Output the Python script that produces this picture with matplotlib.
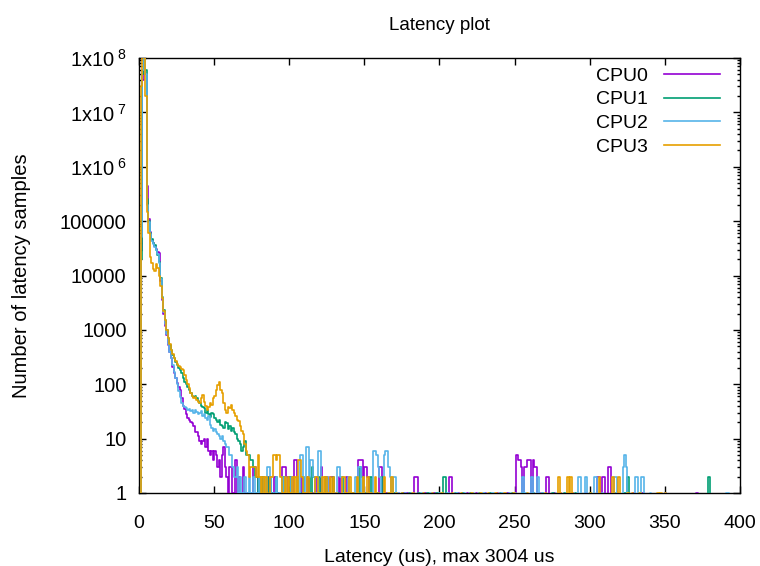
import numpy as np
import matplotlib
matplotlib.use("Agg")
import matplotlib.pyplot as plt
from matplotlib.ticker import LogLocator, NullFormatter, FuncFormatter, MultipleLocator

plt.rcParams["font.family"] = ["Liberation Sans", "DejaVu Sans"]
plt.rcParams["mathtext.default"] = "regular"

# histogram counts per 1 us bin, bins 0..74
cpu0_head = [0, 30000, 4e7, 1.5e8, 5e7, 440000, 110000, 62000, 45000, 40000,
             35000, 31000, 27000, 26000, 8000, 3500, 2000, 1200, 800, 520,
             390, 300, 210, 160, 130, 105, 90, 78, 55, 40,
             35, 28, 24, 22, 20, 19, 17, 13, 13, 11,
             9, 8, 9, 10, 7, 10, 6, 5, 6, 4,
             6, 5, 3, 4, 2, 5, 7, 3, 2, 1,
             3, 3, 1, 0, 4, 1, 2, 0, 0, 3,
             1, 0, 1, 0, 0]
cpu1_head = [0, 20000, 5e7, 1.5e8, 6e7, 250000, 100000, 60000, 46000, 40000,
             36000, 30000, 24000, 18000, 9000, 4000, 2300, 1500, 1000, 700,
             520, 420, 350, 300, 260, 230, 200, 180, 160, 130,
             110, 100, 90, 80, 70, 62, 58, 60, 55, 50,
             45, 40, 38, 36, 30, 34, 28, 25, 30, 28,
             24, 22, 20, 22, 18, 17, 16, 20, 19, 15,
             17, 14, 16, 13, 12, 10, 9, 8, 6, 7,
             9, 5, 5, 5, 4]
cpu2_head = [0, 50000, 6e7, 1.5e8, 5e7, 200000, 95000, 58000, 44000, 38000,
             34000, 29000, 25000, 17000, 8500, 3800, 2100, 1300, 850, 560,
             400, 300, 230, 170, 130, 100, 75, 58, 45, 40,
             38, 36, 34, 35, 32, 33, 30, 34, 31, 28,
             30, 32, 26, 28, 24, 22, 26, 18, 16, 14,
             15, 13, 12, 11, 10, 11, 9, 8, 7, 7,
             5, 5, 3, 2, 2, 3, 1, 2, 1, 1,
             2, 1, 1, 2, 1]
cpu3_head = [0, 3e7, 1.5e8, 1e8, 2e7, 150000, 60000, 22000, 17000, 13000,
             12000, 16000, 14000, 10000, 6500, 3800, 2200, 1500, 1000, 720,
             540, 430, 360, 310, 270, 240, 220, 210, 190, 180,
             150, 120, 100, 85, 70, 60, 55, 58, 52, 48,
             45, 55, 63, 48, 40, 34, 38, 45, 42, 55,
             62, 78, 95, 110, 80, 68, 45, 33, 30, 38,
             36, 42, 34, 30, 26, 22, 21, 17, 14, 12,
             8, 6, 5, 2, 3]

# sparse tail, bins >= 75
cpu0_tail_bins = [75, 76, 77, 78, 80, 82, 84, 86, 88, 90, 92, 95, 96, 97, 98, 100, 101, 103, 104, 106,
                  108, 110, 112, 115, 118, 121, 123, 125, 127, 128, 130, 133, 136, 138, 142, 146, 147, 148, 150, 151,
                  152, 155, 160, 161, 164, 168, 172, 176, 178, 183, 184, 185, 190, 196, 206, 207, 212, 218, 224, 230,
                  238, 245, 251, 252, 253, 254, 256, 257, 258, 259, 260, 262, 263, 264, 266, 271, 272, 276, 280, 288,
                  297, 305, 306, 308, 309, 312, 313, 318, 325, 329, 335, 350, 371]
cpu0_tail_vals = [1, 3, 3, 2, 1, 2, 1, 2, 1, 2, 1, 3, 3, 3, 2, 1, 2, 4, 4, 1,
                  2, 1, 2, 1, 2, 3, 1, 2, 2, 2, 1, 2, 1, 2, 1, 4, 4, 4, 3, 3,
                  2, 1, 3, 3, 1, 1, 1, 1, 1, 2, 2, 2, 1, 1, 2, 2, 1, 1, 1, 1,
                  1, 1, 5, 4, 4, 3, 3, 3, 4, 4, 4, 4, 3, 3, 1, 2, 2, 1, 1, 1,
                  1, 2, 2, 2, 2, 3, 3, 1, 1, 1, 1, 1, 1]
cpu1_tail_bins = [75, 76, 77, 78, 79, 80, 82, 83, 85, 87, 89, 91, 93, 96, 99, 100, 102, 105, 107, 109,
                  111, 113, 115, 116, 118, 120, 122, 124, 126, 129, 132, 135, 137, 140, 143, 147, 148, 151, 154, 158,
                  162, 166, 170, 175, 180, 186, 192, 198, 202, 203, 210, 215, 220, 226, 233, 240, 248, 255, 262, 268,
                  275, 283, 290, 300, 316, 323, 325, 333, 379]
cpu1_tail_vals = [4, 3, 2, 2, 1, 2, 2, 1, 2, 2, 1, 2, 1, 2, 1, 2, 1, 2, 1, 2,
                  1, 2, 3, 2, 1, 2, 1, 2, 1, 2, 1, 2, 1, 1, 1, 3, 2, 1, 2, 1,
                  2, 1, 1, 1, 1, 1, 1, 1, 2, 2, 1, 1, 1, 1, 1, 1, 1, 1, 1, 1,
                  1, 1, 1, 1, 1, 1, 2, 1, 2]
cpu2_tail_bins = [75, 76, 78, 80, 81, 83, 85, 86, 87, 89, 91, 93, 95, 97, 99, 101, 103, 105, 107, 108,
                  109, 111, 112, 113, 114, 115, 116, 118, 119, 120, 121, 123, 125, 128, 130, 132, 133, 134, 136, 139,
                  141, 144, 146, 147, 149, 153, 156, 157, 158, 159, 160, 163, 164, 165, 166, 167, 169, 170, 172, 177,
                  181, 188, 194, 200, 205, 211, 216, 222, 229, 235, 241, 246, 250, 255, 257, 261, 265, 268, 278, 284,
                  292, 293, 297, 303, 304, 308, 316, 317, 322, 323, 324, 330, 331, 334, 335, 340, 346, 350, 391, 392]
cpu2_tail_vals = [1, 2, 1, 2, 1, 2, 3, 3, 2, 1, 2, 1, 2, 2, 1, 2, 1, 2, 5, 5,
                  2, 7, 7, 2, 4, 4, 2, 1, 6, 6, 2, 1, 2, 1, 1, 3, 3, 2, 1, 2,
                  1, 2, 3, 3, 2, 1, 6, 6, 5, 3, 2, 5, 6, 6, 3, 2, 2, 2, 1, 1,
                  1, 1, 1, 1, 1, 1, 1, 1, 1, 1, 1, 1, 1, 2, 1, 2, 2, 1, 1, 1,
                  2, 2, 2, 2, 2, 1, 2, 2, 3, 5, 3, 2, 2, 2, 2, 1, 1, 1, 1, 1]
cpu3_tail_bins = [75, 76, 77, 78, 79, 80, 81, 82, 84, 85, 87, 88, 89, 90, 91, 92, 93, 94, 96, 97,
                  99, 100, 102, 104, 106, 107, 108, 110, 112, 114, 117, 118, 120, 122, 124, 126, 127, 129, 131, 135,
                  136, 138, 140, 142, 145, 147, 149, 152, 154, 157, 159, 163, 166, 168, 171, 175, 182, 189, 195, 201,
                  208, 214, 221, 227, 232, 237, 243, 249, 258, 270, 279, 280, 285, 287, 288, 300, 306, 315, 319, 325,
                  328, 333, 345, 347, 350]
cpu3_tail_vals = [3, 3, 3, 2, 5, 2, 1, 2, 2, 1, 2, 2, 5, 5, 4, 5, 5, 2, 1, 2,
                  2, 1, 2, 2, 4, 4, 2, 1, 2, 1, 2, 2, 1, 2, 2, 1, 2, 2, 1, 2,
                  2, 1, 2, 1, 2, 1, 2, 2, 1, 2, 1, 2, 1, 2, 1, 1, 1, 1, 1, 1,
                  1, 1, 1, 1, 1, 1, 1, 1, 1, 1, 2, 1, 2, 2, 1, 1, 2, 2, 2, 1,
                  1, 1, 1, 1, 1]

labels = ["CPU0", "CPU1", "CPU2", "CPU3"]
colors = ["#9400d3", "#009e73", "#56b4e9", "#e69f00"]

heads = [cpu0_head, cpu1_head, cpu2_head, cpu3_head]
tails = [(cpu0_tail_bins, cpu0_tail_vals), (cpu1_tail_bins, cpu1_tail_vals),
         (cpu2_tail_bins, cpu2_tail_vals), (cpu3_tail_bins, cpu3_tail_vals)]

fig = plt.figure(figsize=(7.6, 5.66), dpi=100)
ax = fig.add_axes([139 / 760, 1 - 493 / 566, 601 / 760, 435 / 566])

x = np.arange(0, 401)
for head, (tb, tv), lab, col in zip(heads, tails, labels, colors):
    y = np.zeros(len(x))
    y[:len(head)] = head
    y[tb] = tv
    ax.step(x, y, where="post", color=col, lw=1.2, label=lab, zorder=3)

ax.set_yscale("log")
ax.set_xlim(0, 400)
ax.set_ylim(1, 1e8)
ax.xaxis.set_major_locator(MultipleLocator(50))
ax.yaxis.set_major_locator(LogLocator(base=10, numticks=20))
ax.yaxis.set_minor_locator(LogLocator(base=10, subs=np.arange(2, 10), numticks=100))
ax.yaxis.set_minor_formatter(NullFormatter())


def yfmt(v, pos):
    n = int(round(np.log10(v)))
    if n < 6:
        return str(10 ** n)
    return "1x10$\\,^{%d}$" % n


ax.yaxis.set_major_formatter(FuncFormatter(yfmt))
ax.tick_params(which="both", direction="in", top=True, right=True)
ax.tick_params(axis="x", labelsize=14, pad=16)
ax.tick_params(axis="y", labelsize=14.5, pad=9)
ax.tick_params(which="major", length=5, width=1)
ax.tick_params(which="minor", length=2.5, width=1)
for s in ax.spines.values():
    s.set_linewidth(1)

ax.set_title("Latency plot", fontsize=13.5, pad=20)
ax.set_xlabel("Latency (us), max 3004 us", fontsize=14, labelpad=12)
ax.set_ylabel("Number of latency samples", fontsize=14.5, labelpad=21)

ax.legend(loc="upper right", bbox_to_anchor=(720 / 760, 1 - 67 / 566), bbox_transform=fig.transFigure,
          frameon=False, markerfirst=False, fontsize=14, handlelength=2.9, handletextpad=0.8,
          labelspacing=0.32, borderpad=0, borderaxespad=0)

fig.savefig("out.png", dpi=100)
